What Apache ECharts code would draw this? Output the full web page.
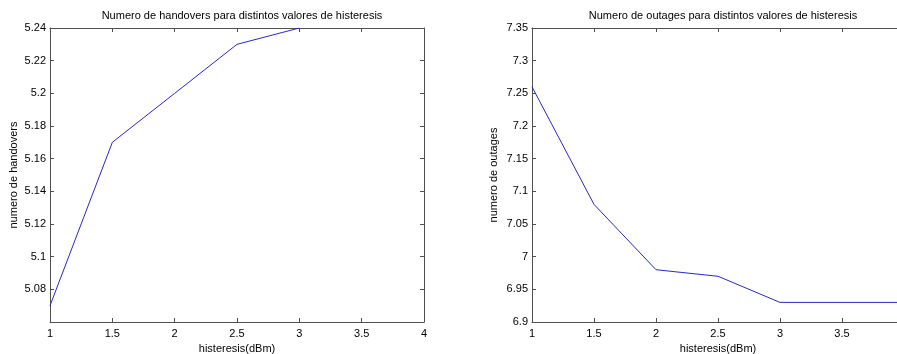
<!DOCTYPE html>
<html>
<head>
<meta charset="utf-8">
<script src="https://cdn.jsdelivr.net/npm/echarts@6/dist/echarts.min.js"></script>
<style>html,body{margin:0;padding:0;background:#fff;overflow:hidden;}#c{width:897px;height:354px;}</style>
</head>
<body>
<div id="c"></div>
<script>
var histeresis = [1, 1.5, 2, 2.5, 3, 3.5, 4];
var handovers = [5.07, 5.17, 5.20, 5.23, 5.24];
var outages = [7.26, 7.08, 6.98, 6.97, 6.93, 6.93, 6.93];
var titles = ['Numero de handovers para distintos valores de histeresis', 'Numero de outages para distintos valores de histeresis'];
var yNames = ['numero de handovers', 'numero de outages'];
var xName = 'histeresis(dBm)';

function pairs(xs, ys) { return ys.map(function (v, i) { return [xs[i], v]; }); }

var font = 'Liberation Sans, Arial, sans-serif';
var axisCol = '#505050';
var lineStyle = { color: axisCol, width: 1 };

function xAx(g, pos, show) {
  return {
    type: 'value', gridIndex: g, position: pos, min: 1, max: 4, interval: 0.5,
    axisLine: { show: true, onZero: false, lineStyle: lineStyle },
    axisTick: { show: true, inside: true, length: 4, lineStyle: lineStyle },
    axisLabel: { show: show, color: '#000', fontFamily: font, fontSize: 11, margin: 6 },
    splitLine: { show: false },
    name: show ? xName : '', nameLocation: 'middle', nameGap: 19,
    nameTextStyle: { color: '#000', fontFamily: font, fontSize: 11 }
  };
}
function yAx(g, pos, show, min, max, iv, name, gap, showMin) {
  return {
    type: 'value', gridIndex: g, position: pos, min: min, max: max, interval: iv,
    axisLine: { show: true, onZero: false, lineStyle: lineStyle },
    axisTick: { show: true, inside: true, length: 4, lineStyle: lineStyle },
    axisLabel: { show: show, color: '#000', fontFamily: font, fontSize: 11, margin: 4, showMinLabel: showMin },
    splitLine: { show: false },
    name: show ? name : '', nameLocation: 'middle', nameGap: gap,
    nameTextStyle: { color: '#000', fontFamily: font, fontSize: 11 }
  };
}

var chart = echarts.init(document.getElementById('c'), null, { renderer: 'canvas' });
chart.setOption({
  backgroundColor: '#fff',
  animation: false,
  title: [
    { text: titles[0], left: 237, top: 5, textAlign: 'center', textStyle: { fontFamily: font, fontSize: 11, fontWeight: 'normal', color: '#000' } },
    { text: titles[1], left: 718, top: 5, textAlign: 'center', textStyle: { fontFamily: font, fontSize: 11, fontWeight: 'normal', color: '#000' } }
  ],
  grid: [
    { left: 50, width: 374, top: 28, bottom: 32, outerBoundsMode: 'none', containLabel: false },
    { left: 532, width: 372, top: 28, bottom: 32, outerBoundsMode: 'none', containLabel: false }
  ],
  xAxis: [
    xAx(0, 'bottom', true), xAx(0, 'top', false),
    xAx(1, 'bottom', true), xAx(1, 'top', false)
  ],
  yAxis: [
    yAx(0, 'left', true, 5.06, 5.24, 0.02, yNames[0], 31, false), yAx(0, 'right', false, 5.06, 5.24, 0.02, '', 0, false),
    yAx(1, 'left', true, 6.9, 7.35, 0.05, yNames[1], 33, true), yAx(1, 'right', false, 6.9, 7.35, 0.05, '', 0, true)
  ],
  series: [
    { type: 'line', xAxisIndex: 0, yAxisIndex: 0, data: pairs(histeresis, handovers), showSymbol: false, lineStyle: { color: '#2828c8', width: 1 } },
    { type: 'line', xAxisIndex: 2, yAxisIndex: 2, data: pairs(histeresis, outages), showSymbol: false, lineStyle: { color: '#2828c8', width: 1 } }
  ]
});
</script>
</body>
</html>
